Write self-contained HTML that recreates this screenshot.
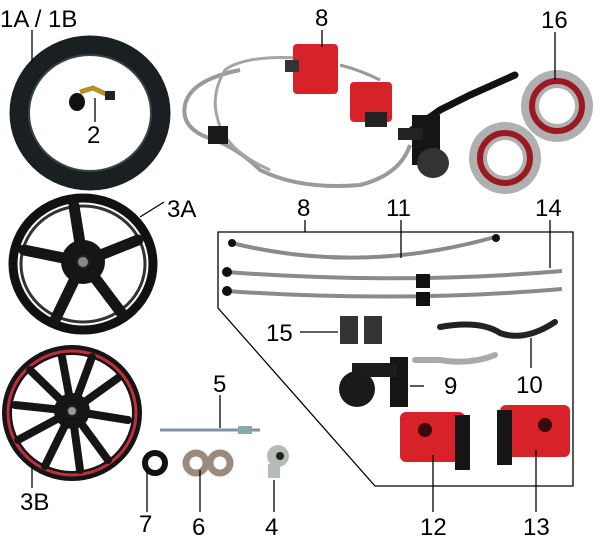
<!DOCTYPE html>
<html><head><meta charset="utf-8"><style>
html,body{margin:0;padding:0;background:#fff}
svg{display:block}
text{font-family:"Liberation Sans",sans-serif;font-size:24px;fill:#000}
</style></head><body>
<svg width="601" height="555" viewBox="0 0 601 555" xmlns="http://www.w3.org/2000/svg">
<rect width="601" height="555" fill="#fff"/>
<!-- Tire -->
<ellipse cx="90" cy="113" rx="71" ry="68" fill="none" stroke="#1a1f22" stroke-width="19"/>
<ellipse cx="90" cy="113" rx="61" ry="58" fill="none" stroke="#3a4246" stroke-width="2"/>
<!-- valve -->
<path d="M80 92 L93 88 L108 95 L113 97" stroke="#b8902a" stroke-width="5" fill="none"/>
<ellipse cx="77" cy="102" rx="8" ry="9" fill="#111"/>
<rect x="105" y="91" width="10" height="9" fill="#222"/>
<!-- Wheel 3A -->
<ellipse cx="83" cy="264" rx="70" ry="66" fill="none" stroke="#111" stroke-width="9"/>
<ellipse cx="83" cy="264" rx="62" ry="58" fill="none" stroke="#333" stroke-width="3"/>
<g stroke="#151515" stroke-width="11" stroke-linecap="round">
<line x1="83" y1="262" x2="74" y2="206"/>
<line x1="83" y1="262" x2="138" y2="240"/>
<line x1="83" y1="262" x2="123" y2="315"/>
<line x1="83" y1="262" x2="55" y2="320"/>
<line x1="83" y1="262" x2="24" y2="250"/>
</g>
<circle cx="83" cy="262" r="22" fill="#151515"/>
<circle cx="83" cy="262" r="6" fill="#888" stroke="#222" stroke-width="2"/>
<!-- Wheel 3B -->
<ellipse cx="72" cy="413" rx="65" ry="63" fill="none" stroke="#151515" stroke-width="10"/>
<ellipse cx="72" cy="413" rx="64" ry="62" fill="none" stroke="#c0303a" stroke-width="3"/>
<g stroke="#151515" stroke-width="8" stroke-linecap="round">
<line x1="72" y1="411" x2="62" y2="357"/><line x1="72" y1="411" x2="92" y2="357"/>
<line x1="72" y1="411" x2="118" y2="378"/><line x1="72" y1="411" x2="128" y2="420"/>
<line x1="72" y1="411" x2="108" y2="460"/><line x1="72" y1="411" x2="80" y2="470"/>
<line x1="72" y1="411" x2="45" y2="466"/><line x1="72" y1="411" x2="18" y2="440"/>
<line x1="72" y1="411" x2="15" y2="405"/><line x1="72" y1="411" x2="30" y2="370"/>
</g>
<circle cx="72" cy="411" r="18" fill="#151515"/>
<circle cx="72" cy="411" r="5" fill="#999" stroke="#222" stroke-width="2"/>
<!-- Top brake assembly -->
<path d="M240 70 Q190 80 185 105 Q180 130 215 140 Q240 150 260 170 Q300 190 360 185 Q400 175 410 145" stroke="#9a9a9a" stroke-width="4" fill="none"/>
<path d="M300 58 Q245 55 225 70 Q210 95 218 120 Q225 150 270 170" stroke="#a5a5a5" stroke-width="3" fill="none"/>
<path d="M340 65 Q360 70 380 80" stroke="#999" stroke-width="3" fill="none"/>
<rect x="208" y="126" width="20" height="18" fill="#1a1a1a"/>
<rect x="293" y="44" width="45" height="50" rx="4" fill="#d8222a"/>
<rect x="285" y="60" width="14" height="12" fill="#333"/>
<rect x="350" y="82" width="42" height="40" rx="4" fill="#d8222a"/>
<rect x="365" y="112" width="22" height="15" fill="#222"/>
<path d="M405 135 L440 110 L470 95 L515 75" stroke="#111" stroke-width="7" fill="none" stroke-linecap="round"/>
<rect x="412" y="115" width="28" height="50" fill="#151515"/>
<rect x="398" y="128" width="25" height="12" fill="#222"/>
<ellipse cx="433" cy="163" rx="16" ry="15" fill="#333"/>
<!-- discs -->
<circle cx="557" cy="106" r="36" fill="#b0b0b0"/>
<circle cx="557" cy="106" r="25" fill="none" stroke="#9a1a24" stroke-width="6"/>
<circle cx="557" cy="106" r="18" fill="#fff"/>
<circle cx="505" cy="158" r="36" fill="#b0b0b0"/>
<circle cx="505" cy="158" r="25" fill="none" stroke="#9a1a24" stroke-width="6"/>
<circle cx="505" cy="158" r="18" fill="#fff"/>
<!-- box -->
<polygon points="218,232 573,232 573,486 375,486 218,308" fill="none" stroke="#000" stroke-width="1.3"/>
<!-- hoses -->
<path d="M232 243 Q360 275 495 237" stroke="#8a8a8a" stroke-width="4" fill="none"/>
<circle cx="232" cy="243" r="4" fill="#111"/><circle cx="496" cy="238" r="4" fill="#111"/>
<path d="M226 272 Q400 285 562 271" stroke="#8a8a8a" stroke-width="4" fill="none"/>
<path d="M226 291 Q400 303 562 289" stroke="#8a8a8a" stroke-width="4" fill="none"/>
<circle cx="227" cy="272" r="5" fill="#111"/><circle cx="227" cy="291" r="5" fill="#111"/>
<rect x="416" y="274" width="14" height="14" fill="#111"/><rect x="416" y="292" width="14" height="14" fill="#111"/>
<!-- pads -->
<rect x="340" y="316" width="18" height="28" fill="#333"/>
<rect x="364" y="316" width="18" height="28" fill="#333"/>
<!-- lever 10 -->
<path d="M440 327 Q480 320 500 333 Q525 342 555 322" stroke="#222" stroke-width="6" fill="none" stroke-linecap="round"/>
<!-- master 9 -->
<path d="M415 360 L440 360 Q470 365 495 355" stroke="#aaa" stroke-width="6" fill="none" stroke-linecap="round"/>
<rect x="390" y="357" width="18" height="50" fill="#151515"/>
<rect x="352" y="363" width="45" height="14" fill="#1c1c1c"/>
<circle cx="357" cy="389" r="18" fill="#1a1a1a"/>
<!-- calipers 12, 13 -->
<rect x="400" y="412" width="65" height="50" rx="6" fill="#d8222a"/>
<rect x="455" y="415" width="15" height="55" fill="#151515"/>
<circle cx="425" cy="430" r="7" fill="#3a0a0a"/>
<rect x="500" y="405" width="70" height="52" rx="6" fill="#d8222a"/>
<rect x="497" y="410" width="15" height="55" fill="#151515"/>
<circle cx="545" cy="425" r="7" fill="#3a0a0a"/>
<!-- axle etc -->
<line x1="160" y1="430" x2="260" y2="430" stroke="#8090a8" stroke-width="3"/>
<rect x="238" y="426" width="14" height="8" fill="#8aa"/>
<circle cx="155" cy="463" r="10" fill="none" stroke="#111" stroke-width="6"/>
<circle cx="196" cy="463" r="10" fill="none" stroke="#9a8a80" stroke-width="7"/>
<circle cx="220" cy="463" r="10" fill="none" stroke="#9a8a80" stroke-width="7"/>
<circle cx="278" cy="456" r="11" fill="#b5bcb5"/><circle cx="280" cy="456" r="4" fill="#222"/>
<rect x="268" y="464" width="12" height="14" fill="#b5bcb5"/>
<!-- leader lines -->
<g stroke="#000" stroke-width="1.3" fill="none">
<line x1="32" y1="30" x2="32" y2="62"/>
<line x1="95" y1="98" x2="95" y2="122"/>
<line x1="322" y1="30" x2="322" y2="47"/>
<line x1="555" y1="32" x2="555" y2="80"/>
<line x1="164" y1="202" x2="140" y2="217"/>
<line x1="305" y1="220" x2="305" y2="232"/>
<line x1="401" y1="220" x2="401" y2="258"/>
<line x1="550" y1="220" x2="550" y2="268"/>
<line x1="300" y1="332" x2="338" y2="332"/>
<line x1="410" y1="386" x2="424" y2="386"/>
<line x1="531" y1="338" x2="531" y2="368"/>
<line x1="220" y1="395" x2="220" y2="428"/>
<line x1="32" y1="467" x2="32" y2="488"/>
<line x1="147" y1="470" x2="147" y2="512"/>
<line x1="200" y1="470" x2="200" y2="512"/>
<line x1="274" y1="480" x2="274" y2="512"/>
<line x1="433" y1="455" x2="433" y2="512"/>
<line x1="536" y1="450" x2="536" y2="512"/>
</g>
<!-- labels -->
<text x="0" y="27">1A / 1B</text>
<text x="87" y="143">2</text>
<text x="315" y="26">8</text>
<text x="541" y="28">16</text>
<text x="167" y="217">3A</text>
<text x="297" y="216">8</text>
<text x="386" y="216">11</text>
<text x="535" y="216">14</text>
<text x="266" y="341">15</text>
<text x="444" y="394">9</text>
<text x="516" y="393">10</text>
<text x="213" y="392">5</text>
<text x="20" y="510">3B</text>
<text x="139" y="532">7</text>
<text x="192" y="535">6</text>
<text x="265" y="535">4</text>
<text x="420" y="535">12</text>
<text x="523" y="535">13</text>
</svg>
</body></html>
